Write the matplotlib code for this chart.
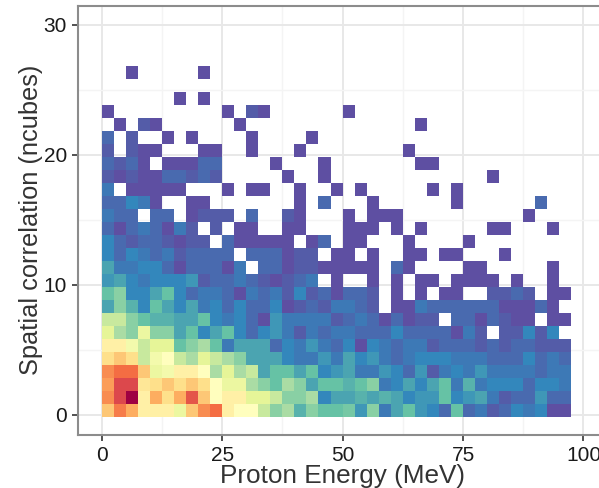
"""Proton energy vs spatial correlation, binned heatmap."""

import numpy as np
import matplotlib
matplotlib.use("Agg")
import matplotlib.pyplot as plt

plt.rcParams['font.family'] = ['Liberation Sans', 'DejaVu Sans']

_ = np.nan

# colour level of each bin (0 = purple ... 20 = dark red), bottom row first, 39 bins per row
row_00 = [13,15.5,14,11,11,11,8.5,13,15,16,11,10,10,7,5,6,3.5,5,4,4,4.5,2.5,5,1.5,3,4,2.5,2,1,4,1,1.5,0.5,1,2,1.5,2,0,0]
row_01 = [15,17.5,20,11,14,12,14,17,13,10,11,11,8,8,7,5,5,6,2,3,3,3.5,3,3.5,3,2,2.5,2.5,4,2,2.5,3,1.5,0.5,1,1,2.5,1,1]
row_02 = [14.5,17.5,17.5,11.5,12,13,12,13,12,10,8.5,8.5,6,5,4,6,5,3,4,4,3.5,4,5,1.5,2,3,2,3,4,1.5,3.5,1.5,2,2,2,1,2,2,1.5]
row_03 = [15,16,16,13,8.5,9,11,11,10,6,8,6,7,3,4,4,3,4,2,2.5,3,1.5,1.5,2.5,2,1,2.5,0.5,1.5,2,1.5,2.5,1.5,1.5,1.5,1.5,1,1.5,1.5]
row_04 = [12,13,12,7,9,10,7,6,8,7,6,5,3,3,3,2,1.5,1.5,2.5,1.5,3,2,2.5,1.5,1,1.5,2,2,2,1.5,1.5,1.5,1,1,1,2,1,1.5,1]
row_05 = [11,11,9,7,8,8,4,5,6,4,1.5,3,3,3,1,2,1.5,2.5,1.5,1,2,0,2,1.5,1,1.5,1.5,0.5,1,1,1,0.5,1,0.5,1,1,0.5,0.5,0.5]
row_06 = [8,6,5,8.5,5,5,3,4,2,3,4,2,1,2,2.5,1.5,0.5,1.5,1,1.5,1.5,1,1,1,2,1,1,1,1,0,1.5,0.5,_,0.5,0.5,2,0.5,2,_]
row_07 = [7,7,5,4,3.5,3.5,3,3,4,2,1.5,2,1,0,2.5,1.5,1.5,1.5,1.5,0.5,1,1.5,1,0,1,0,0.5,0.5,_,1,1,0,1,0.5,0,0,_,0,0]
row_08 = [3,5,3.5,2,4,3,2,3,1.5,2,1,2,1,1,2,0,0.5,1,0.5,1.5,1.5,1,0.5,_,0,0,1.5,1,1,1,1,1,1,0,0,0,1,0,_]
row_09 = [4,5,2,2,3,4,2,1,1.5,1.5,1,0,1.5,1,1.5,0.5,2,0.5,1,0,1,1,0.5,_,0,_,0,_,0,0,_,_,0.5,0.5,1,0.5,_,0,0]
row_10 = [2.5,3,2,1.5,2,2,2,2.5,0.5,1,1,1.5,1,0.5,0,0.5,1,1.5,_,0,_,_,0,_,0,_,0,0,_,0,0,0,0,_,0,_,_,0,_]
row_11 = [3,1.5,1.5,2,2,1,0,1,1,1,0,1.5,_,1,1,0,0.5,0.5,0,0,0,0,0,_,1,0,_,_,_,_,0,0,_,_,_,_,_,0,_]
row_12 = [2,1,2,1.5,1,1.5,0.5,1,1,1,1,_,1,1,1,0,0.5,0.5,_,0,0,_,0,_,_,0,0,_,0,0,_,_,_,0,_,_,_,_,_]
row_13 = [2,1,0.5,1,1,0.5,0,0.5,0.5,_,1,0,0,0,0,0,_,0,1,_,0,0,_,_,_,0,_,_,_,_,0,_,_,_,_,_,_,_,_]
row_14 = [1,0,1,1.5,1,0,1.5,0.5,_,0.5,_,0,0,_,_,0,0,_,_,_,0,0,0,_,0,_,0,_,_,_,_,_,0,0,_,_,_,0,_]
row_15 = [1.5,1,1,_,1,1,_,0,0.5,0.5,0.5,_,1,_,_,0.5,0,_,_,_,0,_,0,0,0,_,_,_,_,_,_,_,_,_,_,0,_,_,_]
row_16 = [1,1,2,1.5,0,_,_,0,0,_,_,_,_,_,_,_,0,_,1,_,_,_,0,_,_,_,_,_,_,0,_,_,_,_,_,_,1,_,_]
row_17 = [1.5,_,0,0,0,0,0,_,_,_,0,_,0,0,_,_,0,_,_,0,_,0,_,_,_,_,_,0,_,0,_,_,_,_,_,_,_,_,_]
row_18 = [0.5,0,0.5,0,0,1,1,0.5,1,0.5,_,_,_,_,_,0,_,_,0,_,_,_,_,_,_,_,_,_,_,_,_,_,0,_,_,_,_,_,_]
row_19 = [1,0.5,1,0,_,0,0,0,1,1,_,_,_,_,0,_,_,_,0,_,_,_,_,_,_,_,0,0,_,_,_,_,_,_,_,_,_,_,_]
row_20 = [0.5,_,0.5,0,0,_,_,_,0,0,_,_,0,_,_,_,0,_,_,_,_,_,_,_,_,0,_,_,_,_,_,_,_,_,_,_,_,_,_]
row_21 = [1,_,0.5,_,_,0,_,0,_,_,_,_,0,_,_,_,_,0,_,_,_,_,_,_,_,_,_,_,_,_,_,_,_,_,_,_,_,_,_]
row_22 = [_,0,_,0.5,0,_,_,_,_,_,_,0,_,_,_,_,_,_,_,_,_,_,_,_,_,_,0,_,_,_,_,_,_,_,_,_,_,_,_]
row_23 = [0,_,_,_,_,_,_,_,_,_,0,_,0.5,0,_,_,_,_,_,_,0,_,_,_,_,_,_,_,_,_,_,_,_,_,_,_,_,_,_]
row_24 = [_,_,_,_,_,_,0,_,0,_,_,_,_,_,_,_,_,_,_,_,_,_,_,_,_,_,_,_,_,_,_,_,_,_,_,_,_,_,_]
row_25 = [_] * 39
row_26 = [_,_,0,_,_,_,_,_,0,_,_,_,_,_,_,_,_,_,_,_,_,_,_,_,_,_,_,_,_,_,_,_,_,_,_,_,_,_,_]

levels = np.array([
    row_00, row_01, row_02, row_03, row_04, row_05, row_06, row_07, row_08,
    row_09, row_10, row_11, row_12, row_13, row_14, row_15, row_16, row_17,
    row_18, row_19, row_20, row_21, row_22, row_23, row_24, row_25, row_26,
], dtype=float)

x_ticks = [0, 25, 50, 75, 100]
x_minor = [12.5, 37.5, 62.5, 87.5]
y_ticks = [0, 10, 20, 30]
y_minor = [5, 15, 25]

fig = plt.figure(figsize=(5.99, 4.88), dpi=100)
# panel runs past the right edge of the picture, as in the cropped original
ax = fig.add_axes([78 / 599, 53 / 488, 532 / 599, 429 / 488])

x_edges = np.arange(levels.shape[1] + 1) * 2.5
y_edges = np.arange(levels.shape[0] + 1) - 0.13
ax.pcolormesh(x_edges, y_edges, np.ma.masked_invalid(levels),
              cmap='Spectral_r', vmin=0, vmax=20, zorder=2)

ax.set_xlim(-4.9, 105.5)
ax.set_ylim(-1.54, 31.46)

ax.set_xticks(x_ticks)
ax.set_yticks(y_ticks)
ax.set_xticks(x_minor, minor=True)
ax.set_yticks(y_minor, minor=True)
ax.grid(True, which='major', color='#e8e8e8', linewidth=1.4, zorder=1)
ax.grid(True, which='minor', color='#f4f4f4', linewidth=1.0, zorder=1)
ax.set_axisbelow(True)

ax.tick_params(axis='both', which='minor', length=0)
ax.tick_params(axis='both', which='major', length=4.3, width=1.2, color='#333333',
               labelsize=15, labelcolor='#1a1a1a', pad=3.6)

for spine in ax.spines.values():
    spine.set_color('#8c8c8c')
    spine.set_linewidth(1.5)

ax.set_xlabel('Proton Energy (MeV)', fontsize=18.8, color='#333333')
ax.xaxis.set_label_coords((343 - 78) / 532, -29 / 429, transform=ax.transAxes)
ax.xaxis.label.set_verticalalignment('top')
ax.set_ylabel('Spatial correlation (ncubes)', fontsize=18.3, color='#333333')
ax.yaxis.set_label_coords(-47 / 532, (435 - 220) / 429, transform=ax.transAxes)
ax.yaxis.label.set_verticalalignment('center')

fig.savefig('out.png', dpi=100)
